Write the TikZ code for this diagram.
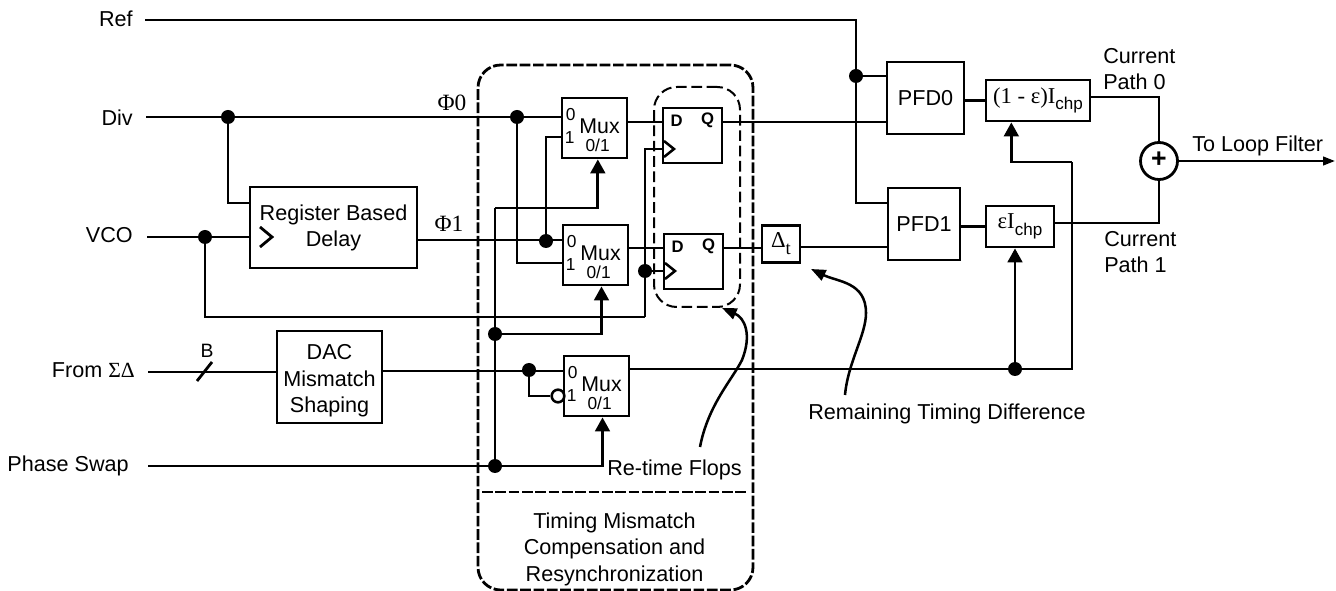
\documentclass[tikz,border=0pt]{standalone}
\usepackage{fontspec}
\setmainfont{Liberation Sans}
\newfontfamily\serifgr{Liberation Serif}
\usetikzlibrary{arrows.meta,calc}
\newcommand{\fs}[1]{\fontsize{#1}{#1}\selectfont}
\newcommand{\subs}[2][12.8]{\raisebox{-0.3em}{\fs{#1}#2}}
\tikzset{
  x=0.75pt,y=-0.75pt,
  wire/.style={line width=2.1pt},
  arrowwire/.style={wire,-{Triangle[width=11pt,length=10.5pt]}},
  note/.style={line width=1.9pt,-{Triangle[width=8.5pt,length=11pt]}},
  box/.style 2 args={draw,line width=2.1pt,inner sep=0pt,minimum width=#1*0.75pt,minimum height=#2*0.75pt,align=center,font=\fs{16.2}},
  dot/.style={circle,fill=black,inner sep=0pt,minimum size=10.5pt},
  txt/.style={inner sep=0pt,font=\fs{16.2},align=center},
  small/.style={inner sep=0pt,font=\fs{13}},
  ffl/.style={inner sep=0pt,font=\fs{12.5}\bfseries},
  muxtxt/.style={inner sep=0pt,font=\fs{16}},
  clk/.style={line width=1.9pt,line join=miter},
  dashouter/.style={draw,line width=2.1pt,dash pattern=on 8pt off 2pt,rounded corners=17pt},
  dashinner/.style={draw,line width=1.5pt,dash pattern=on 8pt off 3.5pt,rounded corners=17pt,inner sep=0pt},
}
\newcommand{\muxlabels}[1]{%
  \node[muxtxt] (#1m) at ([shift={(39,30)}]#1.north west) {Mux};
  \node[small] (#1s) at ([shift={(37,49)}]#1.north west) {0/1};
  \node[small] (#1a) at ([shift={(10,18)}]#1.north west) {0};
  \node[small] (#1b) at ([shift={(9,41)}]#1.north west) {1};
}
\newcommand{\fflabels}[1]{%
  \node[ffl] (#1d) at ([shift={(15,14)}]#1.north west) {D};
  \node[ffl] (#1q) at ([shift={(46,14)}]#1.north west) {Q};
}
\begin{document}
\begin{tikzpicture}
\useasboundingbox (0,0) rectangle (1336,591);
% enclosures
\node[dashouter,minimum width=275*0.75pt,minimum height=525*0.75pt] (outer) at (615.5,327.5) {};
\node[dashinner,minimum width=86*0.75pt,minimum height=220*0.75pt] (inner) at (697,197) {};
\coordinate (divL) at (482,492);
\coordinate (divR) at (747,492);
\draw[line width=2.1pt,dash pattern=on 8pt off 2pt] (divL) -- (divR);
% boxes
\node[box={65}{60}] (mux0) at (594.5,128) {};
\node[box={65}{60}] (mux1) at (595.5,255) {};
\node[box={65}{60}] (mux2) at (596.5,386) {};
\node[box={59}{55}] (ff0) at (692.5,135.5) {};
\node[box={59}{55}] (ff1) at (693.5,261.5) {};
\node[box={167}{81}] (reg) at (333.5,227.5) {Register Based\\[3.3pt]Delay};
\node[box={105}{92}] (dac) at (329.5,377) {\rule{0pt}{17pt}DAC\\[3.6pt]Mismatch\\[3.6pt]Shaping};
\node[box={38}{37}] (dt) at (781,244) {\serifgr\fs{17}Δ\subs[14]{t}};
\node[box={77}{72}] (pfd0) at (925.5,98) {PFD0};
\node[box={72}{72}] (pfd1) at (924,224) {PFD1};
\node[box={104}{41}] (ic0) at (1038,100.5) {\serifgr\fs{17}(1 - ε)I\subs{\rmfamily chp}};
\node[box={68}{41}] (ic1) at (1020,226.5) {\serifgr\fs{17}εI\subs{\rmfamily chp}};
\node[draw,circle,line width=2.1pt,minimum size=37*0.75pt,inner sep=0pt] (sum) at (1159,161) {};
\node[inner sep=0pt,font=\fs{20}\bfseries] (plus) at (1159,159.5) {+};
\muxlabels{mux0}\muxlabels{mux1}\muxlabels{mux2}
\fflabels{ff0}\fflabels{ff1}
% clock chevrons
\draw[clk] (664,141) -- (674,149) -- (664,157);
\draw[clk] (665,263) -- (675,271) -- (665,279);
\draw[wire] (260,227) -- (272,237) -- (260,247);
% input ends
\coordinate (inRef) at (145,20);
\coordinate (inDiv) at (146,117);
\coordinate (inVco) at (147,237);
\coordinate (inSd) at (148,372);
\coordinate (inPs) at (148,466);
% junctions
\node[dot] (jRef) at (856,76) {};
\node[dot] (jDiv) at (228,117) {};
\node[dot] (jDivM) at (517,117) {};
\node[dot] (jVco) at (205,237) {};
\node[dot] (jP1) at (546,241) {};
\node[dot] (jClk) at (645,271) {};
\node[dot] (jSw1) at (495,334) {};
\node[dot] (jSw0) at (495,466) {};
\node[dot] (jSd) at (529,370) {};
\node[dot] (jIc) at (1015,369) {};
\node[draw,circle,line width=1.9pt,fill=white,inner sep=0pt,minimum size=9.5pt] (inv) at (558,396) {};
% Ref
\draw[wire] (inRef) -| (jRef);
\draw[wire] (jRef) -- (pfd0.west |- jRef);
\coordinate (p1ref) at (888,203);
\draw[wire] (jRef) |- (p1ref);
% Div
\draw[wire] (inDiv) -- (jDiv);
\draw[wire] (jDiv) -- (jDivM.west);
\draw[wire] (jDivM) -- (mux0.west |- jDivM);
\coordinate (regA) at (250,203);
\draw[wire] (jDiv) |- (regA);
\coordinate (m11) at (563,263);
\draw[wire] (jDivM) |- (m11);
% VCO
\draw[wire] (inVco) -- (reg.west |- inVco);
\coordinate (vcoBot) at (645,317);
\draw[wire] (jVco) |- (vcoBot);
\draw[wire] (vcoBot) -- (jClk);
\coordinate (ckTop) at (645,149);
\coordinate (ff0ck) at (664,149);
\draw[wire] (jClk) -- (ckTop) -- (ff0ck);
\coordinate (ff1ck) at (665,271);
\draw[wire] (jClk) -- (ff1ck);
% Phi1
\coordinate (regOut) at (417,240);
\draw[wire] (regOut) -- (mux1.west |- regOut);
\coordinate (m01) at (562,137);
\draw[wire] (jP1) |- (m01);
% mux outputs
\draw[wire] (mux0.east |- 0,122) -- (ff0.west |- 0,122);
\draw[wire] (mux1.east |- 0,248) -- (ff1.west |- 0,248);
\draw[wire] (ff0.east |- 0,122) -- (pfd0.west |- 0,122);
\draw[wire] (ff1.east |- 0,248) -- (dt.west |- 0,248);
\draw[wire] (dt.east |- 0,247) -- (pfd1.west |- 0,247);
\draw[wire] (pfd0.east |- ic0) -- (ic0.west);
\draw[wire] (pfd1.east |- ic1) -- (ic1.west);
\draw[wire] (ic0.east |- 0,97) -| (sum.north);
\draw[wire] (ic1.east |- 0,223) -| (sum.south);
\coordinate (out) at (1335,161);
\draw[line width=1.7pt,-{Triangle[width=6.5pt,length=9pt]}] (sum.east) -- (out);
% Phase swap
\draw[wire] (inPs) -- (jSw0);
\draw[arrowwire] (jSw0) -| ([xshift=4.5]mux2.south);
\coordinate (swTop) at (495,208);
\draw[wire] (jSw0) -- (swTop);
\draw[arrowwire] (swTop) -| ([xshift=2.5]mux0.south);
\draw[arrowwire] (jSw1) -| ([xshift=4.5]mux1.south);
% Sigma delta
\draw[wire] (inSd) -- (dac.west |- inSd);
\coordinate (sl0) at (197,381);
\coordinate (sl1) at (212,362);
\draw[wire] (sl0) -- (sl1);
\draw[wire] (dac.east |- 0,371) -- (mux2.west |- 0,371);
\draw[wire] (jSd) |- (inv);
\draw[wire] (mux2.east |- 0,369) -- (jIc);
\coordinate (turn) at (1072,369);
\coordinate (up0) at (1072,162);
\draw[wire] (jIc) -- (turn) -- (up0);
\draw[arrowwire] (up0) -| ([xshift=-20]ic0.south);
\draw[arrowwire] (jIc) -- (jIc |- ic1.south);
% annotation curves
\coordinate (rfS) at (700,447);
\coordinate (rfE) at (722,308);
\draw[note] (rfS) .. controls (708,405) and (732,380) .. (742,360) .. controls (752,335) and (745,318) .. (rfE);
\coordinate (rtS) at (845,395);
\coordinate (rtE) at (811,269);
\draw[note] (rtS) .. controls (848,362) and (866,335) .. (866,313) .. controls (866,282) and (838,282) .. (rtE);
% labels
\node[txt,anchor=east] (lRef) at (133,19) {Ref};
\node[txt,anchor=east] (lDiv) at (133,118) {Div};
\node[txt,anchor=east] (lVco) at (133,235) {VCO};
\node[txt,anchor=east] (lSd) at (135,370) {From {\serifgr ΣΔ}};
\node[txt,anchor=east] (lPs) at (129,466) {Phase Swap};
\node[small,font=\fs{14.5}] (lB) at (207,351) {B};
\node[txt,font=\serifgr\fs{17.5}] (lP0) at (452,103) {Φ0};
\node[txt,font=\serifgr\fs{17.5}] (lP1) at (449,224) {Φ1};
\node[txt,anchor=west,align=left] (lC0) at (1103,69) {Current\\[3.3pt]Path 0};
\node[txt,anchor=west,align=left] (lC1) at (1104,252.5) {Current\\[3.3pt]Path 1};
\node[txt,anchor=west] (lLoop) at (1192,146) {To Loop Filter};
\node[txt,anchor=west] (lRem) at (808,414) {Remaining Timing Difference};
\node[txt,anchor=west] (lRe) at (607,470) {Re-time Flops};
\node[txt] (lTim) at (614.5,549) {Timing Mismatch\\[3.7pt]Compensation and\\[3.7pt]Resynchronization};
\end{tikzpicture}
\end{document}
